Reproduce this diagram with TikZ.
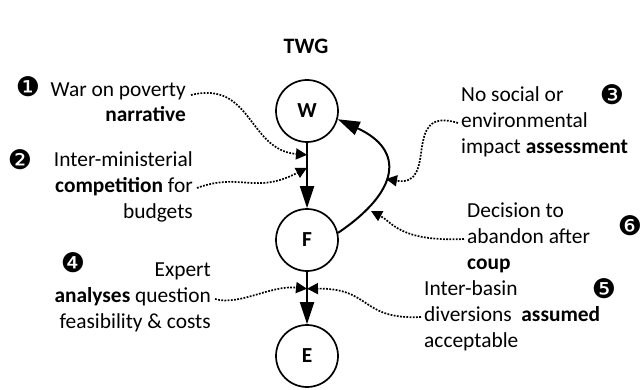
\documentclass[tikz,border=0pt]{standalone}
\usepackage{fontspec}
\setmainfont{Carlito}
\newfontfamily\dingfont{DejaVu Sans}
\usetikzlibrary{arrows.meta, calc, positioning}

\begin{document}
\begin{tikzpicture}[
            x=1pt, y=-1pt,
            every node/.style={font=\fontsize{21.4}{26}\selectfont, inner sep=0pt},
            actor/.style={
                circle, draw=black, line width=1.7pt,
                minimum size=62pt, font=\fontsize{21.4}{26}\selectfont\bfseries
            },
            flow/.style={line width=2pt, -{Triangle[length=22pt, width=14pt]}},
            push/.style={dash pattern=on 1.8pt off 1.4pt, line width=1.7pt,
                -{Triangle[length=11pt, width=11pt]}},
            badge/.style={font=\fontsize{27}{27}\dingfont}
        ]
            \useasboundingbox (0,0) rectangle (644,390);
            \node[font=\fontsize{22}{26}\selectfont\bfseries] (title) at (306,46) {TWG};

            \node[actor] (w) at (307,111) {W};
            \node[actor] (f) at (307,240) {F};
            \node[actor] (e) at (307,356) {E};

            \draw[flow] (w) -- (f);
            \draw[flow] (f) -- (e);
            \draw[flow] (f.13) .. controls (400,191) and (405,150) .. (w.-15);

            \node[align=right, anchor=east, font=\fontsize{21.4}{25}\selectfont] (war) at (186,102)
                {War on poverty\\\textbf{narrative}};
            \node[align=right, anchor=east] (ministry) at (193,187)
                {Inter-ministerial\\\textbf{competition} for\\budgets};
            \node[align=left, anchor=west] (impact) at (461,122)
                {No social or\\environmental\\impact \textbf{assessment}};
            \node[align=left, anchor=west] (coup) at (467,238)
                {Decision to\\abandon after\\\textbf{coup}};
            \node[align=right, anchor=east] (expert) at (211,297)
                {Expert\\\textbf{analyses} question\\feasibility \& costs};
            \node[align=left, anchor=west] (basin) at (424,316)
                {Inter-basin\\diversions\ \ \textbf{assumed}\\acceptable};

            \node[badge] (n1) at (28,87) {❶};
            \node[badge] (n2) at (20,160) {❷};
            \node[badge] (n3) at (612,95) {❸};
            \node[badge] (n4) at (73,263) {❹};
            \node[badge] (n5) at (604,289) {❺};
            \node[badge] (n6) at (630,226) {❻};

            \coordinate (s1) at (191,95);
            \coordinate (s2) at (197,188);
            \coordinate (s3) at (458,123);
            \coordinate (s6) at (464,239);
            \coordinate (s4) at (215,299);
            \coordinate (s5) at (421,317);
            \coordinate (t1) at ($(w)!0.34!(f)$);
            \coordinate (t2) at ($(w)!0.44!(f)$);
            \coordinate (t3) at (386,179);
            \coordinate (t6) at (371,211);
            \coordinate (t4) at ($(f)!0.42!(e)$);
            \coordinate (t5) at ($(f)!0.42!(e)$);

            \draw[push] (s1) .. controls (252,80) and (248,150) .. (t1);
            \draw[push] (s2) .. controls (240,172) and (255,195) .. (t2);
            \draw[push] (s3) .. controls (400,105) and (440,188) .. (t3);
            \draw[push] (s6) .. controls (400,242) and (392,222) .. (t6);
            \draw[push] (s4) .. controls (240,306) and (270,285) .. (t4);
            \draw[push] (s5) .. controls (360,320) and (372,288) .. (t5);
        %     \node[below=4pt of e] {Legend};
        \end{tikzpicture}
\end{document}
